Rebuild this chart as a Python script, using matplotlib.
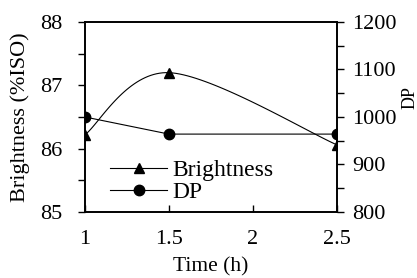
import numpy as np
import matplotlib
matplotlib.use("Agg")
import matplotlib.pyplot as plt
from matplotlib.lines import Line2D
from matplotlib.ticker import MultipleLocator

plt.rcParams['font.family'] = ['Liberation Serif', 'DejaVu Serif']

time_h = [1, 1.5, 2.5]
brightness = [86.22, 87.2, 86.06]
dp = [1000, 964, 964]


def smooth_curve(x, y, n=40):
    # Excel-like smoothed line: cubic Bezier with Catmull-Rom control points
    p = np.column_stack([x, y]).astype(float)
    pts = [p[0]] + list(p) + [p[-1]]
    out = []
    t = np.linspace(0, 1, n)[:, None]
    for i in range(1, len(pts) - 2):
        p0, p1, p2, p3 = pts[i - 1], pts[i], pts[i + 1], pts[i + 2]
        c1 = p1 + (p2 - p0) / 6
        c2 = p2 - (p3 - p1) / 6
        seg = ((1 - t) ** 3) * p1 + 3 * ((1 - t) ** 2) * t * c1 + 3 * (1 - t) * t ** 2 * c2 + t ** 3 * p2
        out.append(seg)
    out = np.vstack(out)
    return out[:, 0], out[:, 1]


fig = plt.figure(figsize=(4.17, 2.78), dpi=100)
ax = fig.add_axes([0.2038, 0.2374, 0.6043, 0.6835])
ax2 = ax.twinx()

cx, cy = smooth_curve(time_h, brightness)
ax.plot(cx, cy, color='black', lw=0.8)
ax.plot(time_h, brightness, ls='none', marker='^', color='black', ms=7.5)
ax2.plot(time_h, dp, color='black', lw=0.8, marker='o', ms=7.5)

ax.set_xlim(1, 2.5)
ax.set_ylim(85, 88)
ax2.set_ylim(800, 1200)
ax.set_xticks([1, 1.5, 2, 2.5])
ax.set_xticklabels(['1', '1.5', '2', '2.5'])
ax.set_yticks([85, 86, 87, 88])
ax.yaxis.set_minor_locator(MultipleLocator(0.5))
ax2.set_yticks([800, 900, 1000, 1100, 1200])
ax2.yaxis.set_minor_locator(MultipleLocator(50))

ax.tick_params(axis='x', direction='in', length=5, width=1, labelsize=16, pad=13)
ax.tick_params(axis='y', which='both', direction='out', length=5, width=1, labelsize=16, pad=11)
ax2.tick_params(axis='y', which='both', direction='out', length=5, width=1, labelsize=16, pad=6)
for a in (ax, ax2):
    for s in a.spines.values():
        s.set_linewidth(1.2)

ax.set_xlabel('Time (h)', fontsize=15.5)
ax.xaxis.set_label_coords(0.5, -0.24)
ax.set_ylabel('Brightness (%ISO)', fontsize=16)
ax.yaxis.set_label_coords(-0.22, 0.5)
ax2.set_ylabel('DP', fontsize=13)
ax2.yaxis.set_label_coords(1.255, 0.6)

handles = [Line2D([], [], color='black', lw=0.8, marker='^', ms=7.5),
           Line2D([], [], color='black', lw=0.8, marker='o', ms=7.5)]
ax.legend(handles, ['Brightness', 'DP'], loc='upper left', bbox_to_anchor=(0.1, 0.275),
          frameon=False, fontsize=17, handlelength=2.4, handletextpad=0.25,
          labelspacing=0.0, borderpad=0, borderaxespad=0)

fig.savefig('out.png', dpi=100)
